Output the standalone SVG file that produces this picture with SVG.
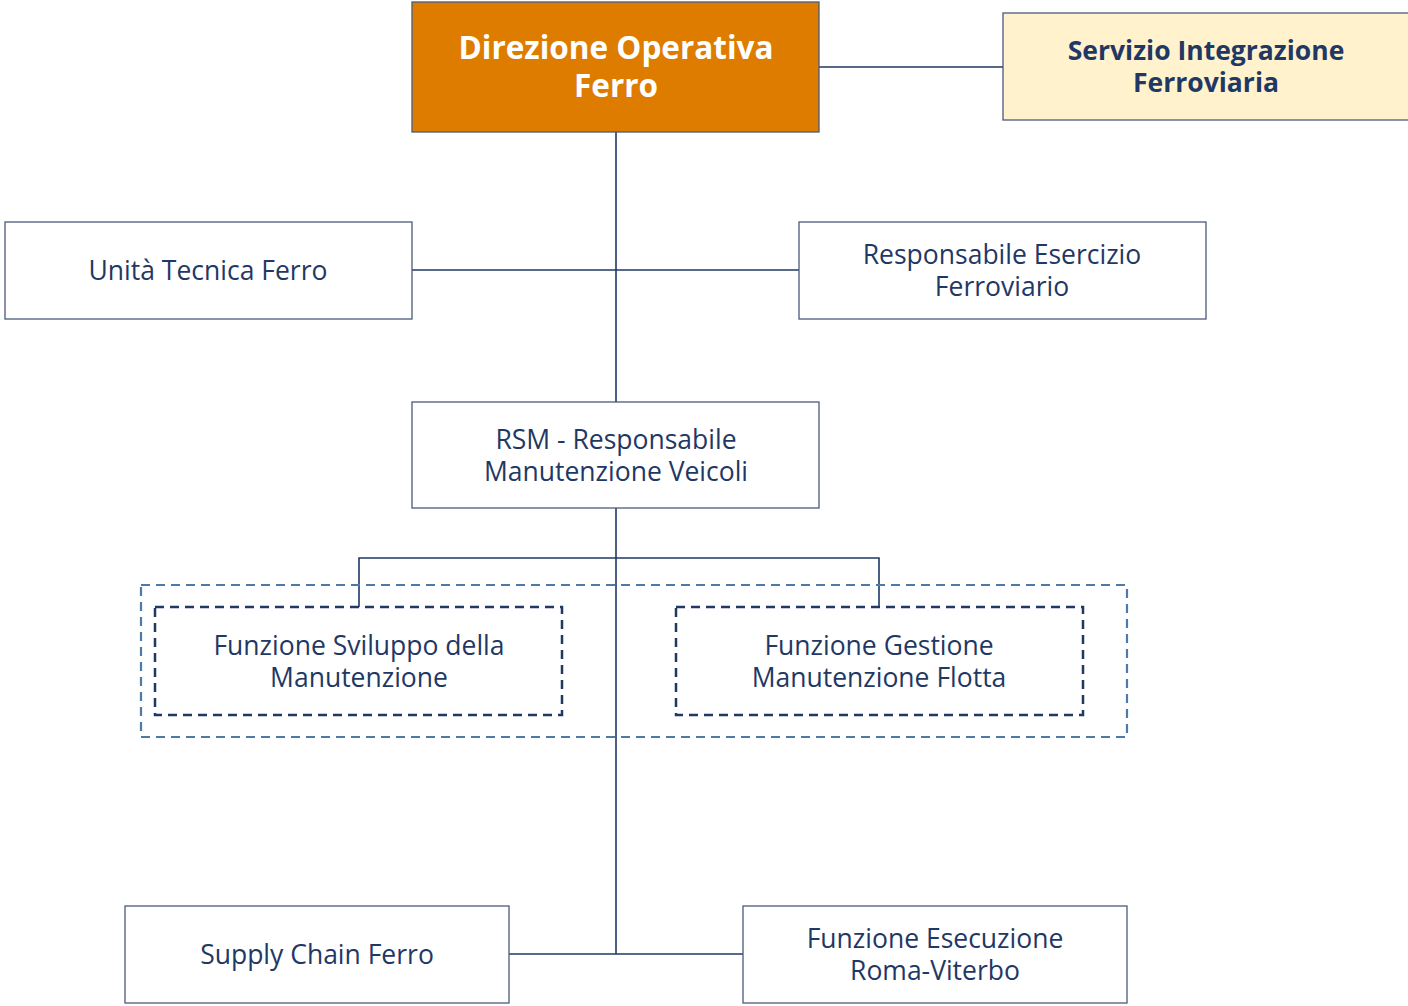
<svg xmlns="http://www.w3.org/2000/svg" width="1408" height="1006" viewBox="0 0 1408 1006">
<style>
.box{fill:#ffffff;stroke:#4a5b7c;stroke-width:1.3}
.t{font-family:"Open Sans","Noto Sans",sans-serif;font-size:26.5px;fill:#1f3864;text-anchor:middle}
.b{font-weight:bold}
.conn{stroke:#1f3864;stroke-width:1.6;fill:none}
.dash-in{fill:none;stroke:#1f3864;stroke-width:2.5;stroke-dasharray:9,6}
.dash-out{fill:none;stroke:#4d7ba6;stroke-width:2.2;stroke-dasharray:9,6}
</style>
<rect width="1408" height="1006" fill="#ffffff"/>
<g id="connectors">
<line class="conn" x1="819" y1="67" x2="1003" y2="67"/>
<line class="conn" x1="616" y1="132" x2="616" y2="402"/>
<line class="conn" x1="412" y1="270" x2="799" y2="270"/>
<line class="conn" x1="616" y1="508" x2="616" y2="954"/>
<polyline class="conn" points="359,607 359,558 879,558 879,607"/>
<line class="conn" x1="509" y1="954" x2="743" y2="954"/>
</g>
<g id="group-funzioni">
<rect class="dash-out" x="141" y="585" width="986" height="152"/>
</g>
<g id="direzione">
<rect x="412" y="2" width="407" height="130" fill="#de7c00" stroke="#4a5b7c" stroke-width="1.3"/>
<text class="t b" x="616" y="59" style="font-size:31.5px;fill:#ffffff">Direzione Operativa</text>
<text class="t b" x="616" y="97" style="font-size:31.5px;fill:#ffffff">Ferro</text>
</g>
<g id="servizio">
<rect x="1003" y="13" width="410" height="107" fill="#fff2cc" stroke="#4a5b7c" stroke-width="1.3"/>
<text class="t b" x="1206" y="60" style="font-size:26.5px">Servizio Integrazione</text>
<text class="t b" x="1206" y="92" style="font-size:26.5px">Ferroviaria</text>
</g>
<g id="unita">
<rect class="box" x="5" y="222" width="407" height="97"/>
<text class="t" x="208" y="280">Unità Tecnica Ferro</text>
</g>
<g id="responsabile">
<rect class="box" x="799" y="222" width="407" height="97"/>
<text class="t" x="1002" y="264">Responsabile Esercizio</text>
<text class="t" x="1002" y="296">Ferroviario</text>
</g>
<g id="rsm">
<rect class="box" x="412" y="402" width="407" height="106"/>
<text class="t" x="616" y="449">RSM - Responsabile</text>
<text class="t" x="616" y="481">Manutenzione Veicoli</text>
</g>
<g id="sviluppo">
<rect class="dash-in" x="155" y="607" width="407" height="108"/>
<text class="t" x="359" y="655">Funzione Sviluppo della</text>
<text class="t" x="359" y="687">Manutenzione</text>
</g>
<g id="gestione">
<rect class="dash-in" x="676" y="607" width="407" height="108"/>
<text class="t" x="879" y="655">Funzione Gestione</text>
<text class="t" x="879" y="687">Manutenzione Flotta</text>
</g>
<g id="supply">
<rect class="box" x="125" y="906" width="384" height="97"/>
<text class="t" x="317" y="964">Supply Chain Ferro</text>
</g>
<g id="esecuzione">
<rect class="box" x="743" y="906" width="384" height="97"/>
<text class="t" x="935" y="948">Funzione Esecuzione</text>
<text class="t" x="935" y="980">Roma-Viterbo</text>
</g>
</svg>
